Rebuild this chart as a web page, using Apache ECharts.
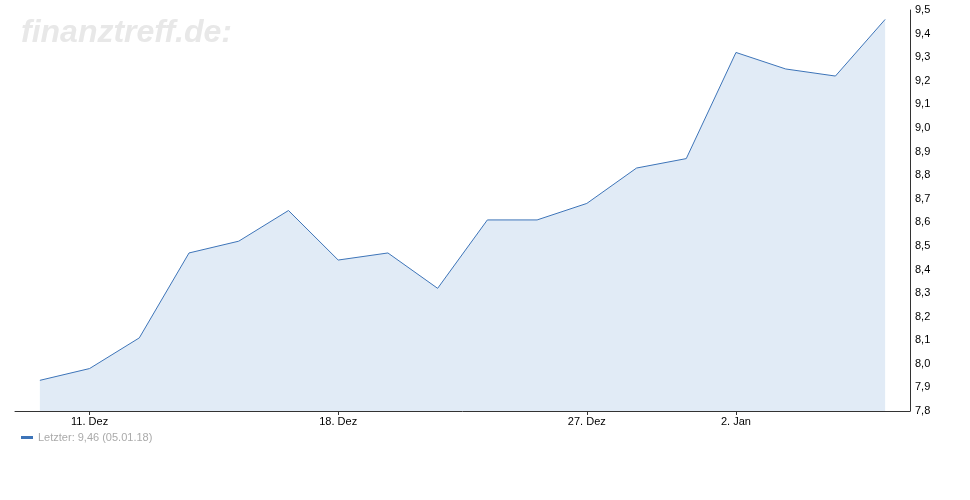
<!DOCTYPE html>
<html><head><meta charset="utf-8">
<script src="https://cdn.jsdelivr.net/npm/echarts@6/dist/echarts.min.js"></script>
<style>html,body{margin:0;padding:0;background:#fff}#c{width:970px;height:500px}</style>
</head><body><div id="c"></div>
<script>
const categories = ['08.12.','11.12.','12.12.','13.12.','14.12.','15.12.','18.12.','19.12.','20.12.','21.12.','22.12.','27.12.','28.12.','29.12.','02.01.','03.01.','04.01.','05.01.'];
const tickLabels = {1:'11. Dez', 6:'18. Dez', 11:'27. Dez', 14:'2. Jan'};
const values = [7.93,7.98,8.11,8.47,8.52,8.65,8.44,8.47,8.32,8.61,8.61,8.68,8.83,8.87,9.32,9.25,9.22,9.46];
const legendText = 'Letzter: 9,46 (05.01.18)';

const chart = echarts.init(document.getElementById('c'), null, {renderer:'canvas'});
chart.setOption({
  animation:false,
  textStyle:{fontFamily:'Liberation Sans, Arial, sans-serif'},
  grid:{left:15,right:60,top:10,bottom:89},
  graphic:[{type:'text',left:21,top:17,style:{text:'finanztreff.de:',font:'italic bold 32px "Liberation Sans", Arial, sans-serif',fill:'#e8e8e8'}}],
  legend:{left:21,top:432,padding:0,icon:'rect',itemWidth:12,itemHeight:3,itemGap:4,
    textStyle:{color:'#aaaaaa',fontSize:11},formatter:()=>legendText,data:['Letzter']},
  xAxis:{type:'category',data:categories,boundaryGap:true,
    axisLine:{lineStyle:{color:'#333',width:1}},
    axisTick:{show:true,alignWithLabel:true,length:4,interval:(i)=>tickLabels[i]!==undefined,lineStyle:{color:'#333'}},
    axisLabel:{interval:(i)=>tickLabels[i]!==undefined,formatter:(v,i)=>tickLabels[i]||'',color:'#000',fontSize:11,margin:5},
    splitLine:{show:false}},
  yAxis:{type:'value',position:'right',min:7.8,max:9.5,interval:0.1,
    axisLine:{show:true,lineStyle:{color:'#333'}},axisTick:{show:false},
    splitLine:{show:false},
    axisLabel:{color:'#000',fontSize:11,margin:5,formatter:(v)=>v.toFixed(1).replace('.',',')}},
  series:[{name:'Letzter',type:'line',data:values,symbol:'none',
    lineStyle:{color:'#3d74b8',width:1},itemStyle:{color:'#3d74b8'},
    areaStyle:{color:'#e1ebf6',opacity:1}}]
});
</script></body></html>
